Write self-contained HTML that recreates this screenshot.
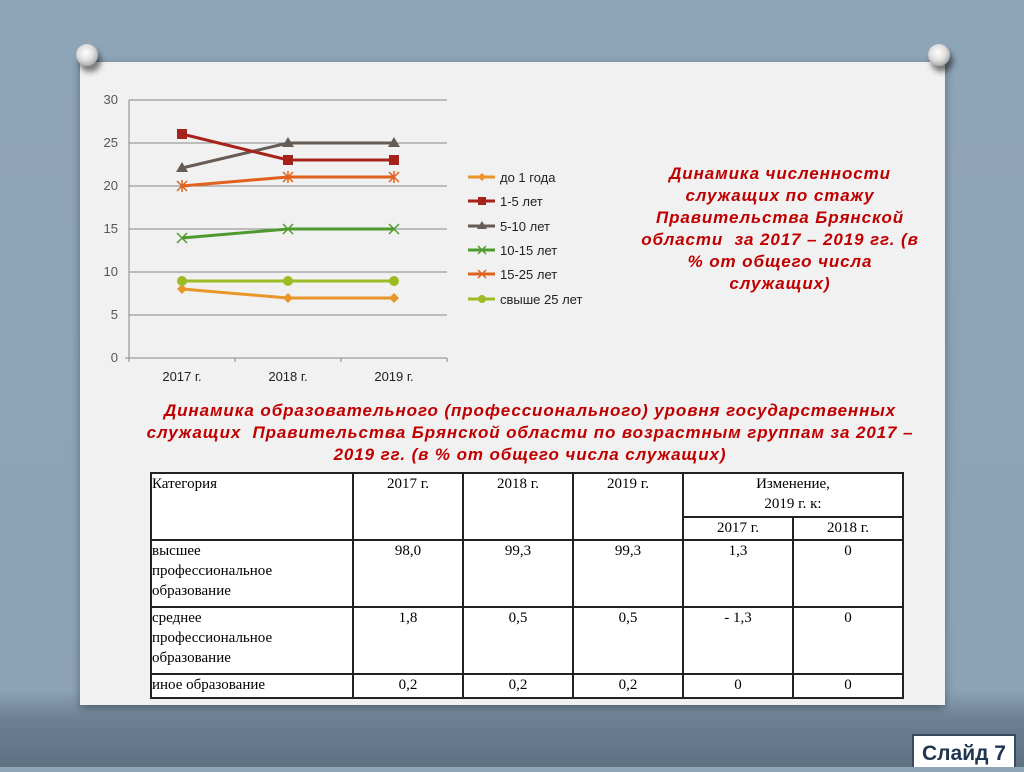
<!DOCTYPE html>
<html><head><meta charset="utf-8"><style>
body{margin:0;width:1024px;height:767px;overflow:hidden;position:relative;font-family:"Liberation Sans",sans-serif;
background:linear-gradient(180deg,#8ea4b7 0%,#8ca2b5 90%,#6a7f91 94%,#5e7284 100%);}
.card{position:absolute;left:80px;top:62px;width:865px;height:643px;background:#f1f1f1;box-shadow:0 3px 8px rgba(0,0,0,.35);}
.pin{position:absolute;width:22px;height:22px;border-radius:50%;background:radial-gradient(circle at 45% 40%,#fff 0%,#ddd 45%,#777 100%);box-shadow:3px 6px 6px rgba(0,0,0,.5);}
.t{position:absolute;color:#c00000;font-weight:bold;font-style:italic;text-align:center;white-space:nowrap;font-size:17px;letter-spacing:0.9px;line-height:22px}
table{position:absolute;left:150px;top:472px;border-collapse:collapse;font-family:"Liberation Serif",serif;font-size:15px;background:#fff;}
td{border:2px solid #222;vertical-align:top;text-align:center;padding:0;line-height:20px;}
td.l{text-align:left;}
.slide{position:absolute;left:912px;top:734px;width:104px;height:33px;background:#fff;border:2px solid #3a4a5a;border-bottom:none;font-weight:bold;font-size:21px;color:#1f3550;text-align:center;line-height:36px;box-sizing:border-box;}
</style></head><body>
<div class="card"></div>
<div class="pin" style="left:76px;top:44px"></div>
<div class="pin" style="left:928px;top:44px"></div>
<svg width="1024" height="767" style="position:absolute;left:0;top:0" font-family="Liberation Sans" font-size="12">
<g stroke="#888" stroke-width="1">
<line x1="129" y1="100" x2="447" y2="100"/><line x1="129" y1="143" x2="447" y2="143"/>
<line x1="129" y1="186" x2="447" y2="186"/><line x1="129" y1="229" x2="447" y2="229"/>
<line x1="129" y1="272" x2="447" y2="272"/><line x1="129" y1="315" x2="447" y2="315"/>
<line x1="125" y1="358" x2="447" y2="358"/><line x1="129" y1="100" x2="129" y2="362"/>
<line x1="235" y1="358" x2="235" y2="362"/><line x1="341" y1="358" x2="341" y2="362"/><line x1="447" y1="358" x2="447" y2="362"/>
</g>
<g fill="#555" text-anchor="end" font-size="13"><text x="118" y="104">30</text><text x="118" y="147">25</text><text x="118" y="190">20</text><text x="118" y="233">15</text><text x="118" y="276">10</text><text x="118" y="319">5</text><text x="118" y="362">0</text></g>
<g fill="#222" text-anchor="middle" font-size="13"><text x="182" y="381">2017 г.</text><text x="288" y="381">2018 г.</text><text x="394" y="381">2019 г.</text></g>
<g fill="none" stroke-width="3">
<polyline points="182,289 288,298 394,298" stroke="#e8952a"/>
<polyline points="182,281 288,281 394,281" stroke="#9dbb22"/>
<polyline points="182,238 288,229 394,229" stroke="#4f9a2e"/>
<polyline points="182,186 288,177 394,177" stroke="#e0621c"/>
<polyline points="182,168 288,143 394,143" stroke="#675c55"/>
<polyline points="182,134 288,160 394,160" stroke="#a6231c"/>
</g>
<g fill="#e8952a"><path d="M182,284l5,5-5,5-5-5z"/><path d="M288,293l5,5-5,5-5-5z"/><path d="M394,293l5,5-5,5-5-5z"/></g>
<g fill="#9dbb22"><circle cx="182" cy="281" r="5"/><circle cx="288" cy="281" r="5"/><circle cx="394" cy="281" r="5"/></g>
<g stroke="#4f9a2e" stroke-width="1.5"><path d="M177,233l10,10M187,233l-10,10M283,224l10,10M293,224l-10,10M389,224l10,10M399,224l-10,10"/></g>
<g stroke="#e0621c" stroke-width="1.5"><path d="M177,181l10,10M187,181l-10,10M182,180v12M283,172l10,10M293,172l-10,10M288,171v12M389,172l10,10M399,172l-10,10M394,171v12"/></g>
<g fill="#675c55"><path d="M182,162l6,10h-12z"/><path d="M288,137l6,10h-12z"/><path d="M394,137l6,10h-12z"/></g>
<g fill="#a6231c"><rect x="177" y="129" width="10" height="10"/><rect x="283" y="155" width="10" height="10"/><rect x="389" y="155" width="10" height="10"/></g>
<g stroke-width="3">
<line x1="468" y1="177" x2="495" y2="177" stroke="#e8952a"/><line x1="468" y1="201" x2="495" y2="201" stroke="#a6231c"/>
<line x1="468" y1="226" x2="495" y2="226" stroke="#675c55"/><line x1="468" y1="250" x2="495" y2="250" stroke="#4f9a2e"/>
<line x1="468" y1="274" x2="495" y2="274" stroke="#e0621c"/><line x1="468" y1="299" x2="495" y2="299" stroke="#9dbb22"/>
</g>
<path d="M482,173l4,4-4,4-4-4z" fill="#e8952a"/><rect x="478" y="197" width="8" height="8" fill="#a6231c"/>
<path d="M482,221l5,8h-10z" fill="#675c55"/><path d="M478,246l8,8M486,246l-8,8" stroke="#4f9a2e" stroke-width="1.5"/>
<path d="M478,270l8,8M486,270l-8,8" stroke="#e0621c" stroke-width="1.5"/><circle cx="482" cy="299" r="4" fill="#9dbb22"/>
<g fill="#222" font-size="13"><text x="500" y="182">до 1 года</text><text x="500" y="206">1-5 лет</text><text x="500" y="231">5-10 лет</text><text x="500" y="255">10-15 лет</text><text x="500" y="279">15-25 лет</text><text x="500" y="304">свыше 25 лет</text></g>
</svg>
<div class="t" style="left:630px;top:163px;width:300px">Динамика численности<br>служащих по стажу<br>Правительства Брянской<br>области&nbsp; за 2017 – 2019 гг. (в<br>% от общего числа<br>служащих)</div>
<div class="t" style="left:130px;top:400px;width:800px">Динамика образовательного (профессионального) уровня государственных<br>служащих&nbsp; Правительства Брянской области по возрастным группам за 2017 –<br>2019 гг. (в % от общего числа служащих)</div>
<table>
<tr style="height:44px"><td class="l" rowspan="2" style="width:200px">Категория</td><td rowspan="2" style="width:108px">2017 г.</td><td rowspan="2" style="width:108px">2018 г.</td><td rowspan="2" style="width:108px">2019 г.</td><td colspan="2">Изменение,<br>2019 г. к:</td></tr>
<tr style="height:23px"><td style="width:108px">2017 г.</td><td style="width:108px">2018 г.</td></tr>
<tr style="height:67px"><td class="l">высшее<br>профессиональное<br>образование</td><td>98,0</td><td>99,3</td><td>99,3</td><td>1,3</td><td>0</td></tr>
<tr style="height:67px"><td class="l">среднее<br>профессиональное<br>образование</td><td>1,8</td><td>0,5</td><td>0,5</td><td>- 1,3</td><td>0</td></tr>
<tr style="height:24px"><td class="l">иное образование</td><td>0,2</td><td>0,2</td><td>0,2</td><td>0</td><td>0</td></tr>
</table>
<div class="slide">Слайд 7</div>
</body></html>
